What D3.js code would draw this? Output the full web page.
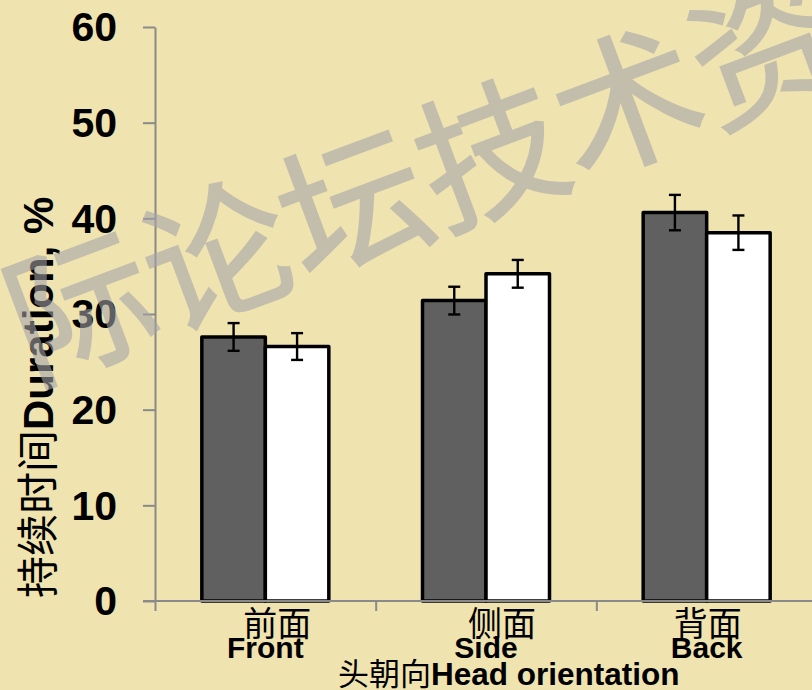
<!DOCTYPE html>
<html>
<head>
<meta charset="utf-8">
<script src="https://cdn.jsdelivr.net/npm/d3@7"></script>
<style>
  html, body { margin: 0; padding: 0; background: #efe3b0; }
  svg { display: block; }
</style>
</head>
<body>
<svg id="chart" width="812" height="690"></svg>
<script>
// Head orientation categories (Chinese + English labels)
const categories = ["front", "side", "back"];
const labelsZh = ["前面", "侧面", "背面"];
const labelsEn = ["Front", "Side", "Back"];
const series = ["dark", "light"];

// Duration (%) per category, two series
const darkValues  = [27.6, 31.4, 40.6];
const lightValues = [26.6, 34.2, 38.5];
// Error bar half-lengths
const darkErr  = [1.45, 1.45, 1.85];
const lightErr = [1.4, 1.45, 1.8];

const yTicks = [0, 10, 20, 30, 40, 50, 60];

const svg = d3.select("#chart");
const W = 812, H = 690;

// parchment background
svg.append("rect").attr("width", W).attr("height", H).attr("fill", "#efe3b0");

const x0 = 155, x1 = 817, yTop = 27, yBottom = 601;

const x = d3.scaleBand().domain(categories).range([x0, x1])
  .paddingInner(0.4245).paddingOuter(0.21225);
const xs = d3.scaleBand().domain(series).range([0, x.bandwidth()]);
const y = d3.scaleLinear().domain([0, 60]).range([yBottom, yTop]);
const xEdge = d3.scaleLinear().domain([0, categories.length]).range([x0, x1]);

const fills = { dark: "#606060", light: "#ffffff" };

const rows = categories.map((c, i) => ({
  cat: c,
  vals: [
    { s: "dark", v: darkValues[i], e: darkErr[i] },
    { s: "light", v: lightValues[i], e: lightErr[i] }
  ]
}));

// bars
const g = svg.append("g");
const groups = g.selectAll("g.cat").data(rows).join("g")
  .attr("class", "cat")
  .attr("transform", d => `translate(${x(d.cat)},0)`);

groups.selectAll("rect").data(d => d.vals).join("rect")
  .attr("x", d => xs(d.s))
  .attr("y", d => y(d.v))
  .attr("width", xs.bandwidth())
  .attr("height", d => y(0) - y(d.v))
  .attr("fill", d => fills[d.s])
  .attr("stroke", "#000")
  .attr("stroke-width", 3.5)
  .attr("stroke-linejoin", "round");

// error bars
const capW = 6;
const eb = groups.selectAll("g.err").data(d => d.vals).join("g").attr("class", "err")
  .attr("stroke", "#000").attr("stroke-width", 2.4);
eb.append("line")
  .attr("x1", d => xs(d.s) + xs.bandwidth() / 2)
  .attr("x2", d => xs(d.s) + xs.bandwidth() / 2)
  .attr("y1", d => y(d.v + d.e)).attr("y2", d => y(d.v - d.e));
eb.append("line")
  .attr("x1", d => xs(d.s) + xs.bandwidth() / 2 - capW)
  .attr("x2", d => xs(d.s) + xs.bandwidth() / 2 + capW)
  .attr("y1", d => y(d.v + d.e)).attr("y2", d => y(d.v + d.e));
eb.append("line")
  .attr("x1", d => xs(d.s) + xs.bandwidth() / 2 - capW)
  .attr("x2", d => xs(d.s) + xs.bandwidth() / 2 + capW)
  .attr("y1", d => y(d.v - d.e)).attr("y2", d => y(d.v - d.e));

// y axis
const yAxis = svg.append("g").attr("transform", `translate(${x0},0)`)
  .call(d3.axisLeft(y).tickValues(yTicks).tickSize(12).tickSizeOuter(0).tickPadding(26));
yAxis.select(".domain").attr("stroke", "#8a8a8a").attr("stroke-width", 2);
yAxis.selectAll(".tick line").attr("stroke", "#8a8a8a").attr("stroke-width", 2);
yAxis.selectAll(".tick text")
  .attr("font-family", "'Liberation Sans', Arial, sans-serif")
  .attr("font-weight", "bold").attr("font-size", 41).attr("fill", "#000")
  .attr("dy", "0.34em");

// x axis with ticks at category boundaries
const xAxis = svg.append("g").attr("transform", `translate(0,${yBottom})`)
  .call(d3.axisBottom(xEdge).ticks(categories.length).tickFormat("").tickSize(10).tickSizeOuter(0));
xAxis.select(".domain").attr("stroke", "#8a8a8a").attr("stroke-width", 2)
  .attr("d", `M${x0 - 12},0H${x1}`);
xAxis.selectAll(".tick line").attr("stroke", "#8a8a8a").attr("stroke-width", 2);

// category labels
const zhOffset = [12, 16, 1];
svg.append("g").selectAll("text").data(categories).join("text")
  .attr("x", (c, i) => x(c) + x.bandwidth() / 2 + zhOffset[i])
  .attr("y", 636)
  .attr("text-anchor", "middle")
  .attr("font-family", "'Noto Sans CJK SC', sans-serif")
  .attr("font-size", 34).attr("fill", "#000")
  .text((c, i) => labelsZh[i]);
svg.append("g").selectAll("text").data(categories).join("text")
  .attr("x", c => x(c) + x.bandwidth() / 2)
  .attr("y", 658)
  .attr("text-anchor", "middle")
  .attr("font-family", "'Liberation Sans', Arial, sans-serif")
  .attr("font-weight", "bold").attr("font-size", 30).attr("fill", "#000")
  .text((c, i) => labelsEn[i]);

// x axis title
const xt = svg.append("text").attr("x", 338).attr("y", 685).attr("fill", "#000");
xt.append("tspan").attr("font-family", "'Noto Sans CJK SC', sans-serif")
  .attr("font-size", 31).text("头朝向");
xt.append("tspan").attr("font-family", "'Liberation Sans', Arial, sans-serif")
  .attr("font-weight", "bold").attr("font-size", 31.5).text("Head orientation");

// y axis title
const yt = svg.append("text").attr("transform", "translate(53,598) rotate(-90)").attr("fill", "#000");
yt.append("tspan").attr("font-family", "'Noto Sans CJK SC', sans-serif")
  .attr("font-size", 42).text("持续时间");
yt.append("tspan").attr("font-family", "'Liberation Sans', Arial, sans-serif")
  .attr("font-weight", "bold").attr("font-size", 42).text("Duration, %");

// watermark (translucent layer over everything)
svg.append("g").attr("opacity", 0.58)
  .append("text")
  .attr("transform", "translate(31,383) rotate(-20.5)")
  .attr("font-family", "'Noto Sans CJK SC', sans-serif")
  .attr("font-size", 146)
  .attr("fill", "rgb(164,164,170)")
  .attr("stroke", "rgb(164,164,170)").attr("stroke-width", 2)
  .text("际论坛技术资料");
</script>
</body>
</html>
